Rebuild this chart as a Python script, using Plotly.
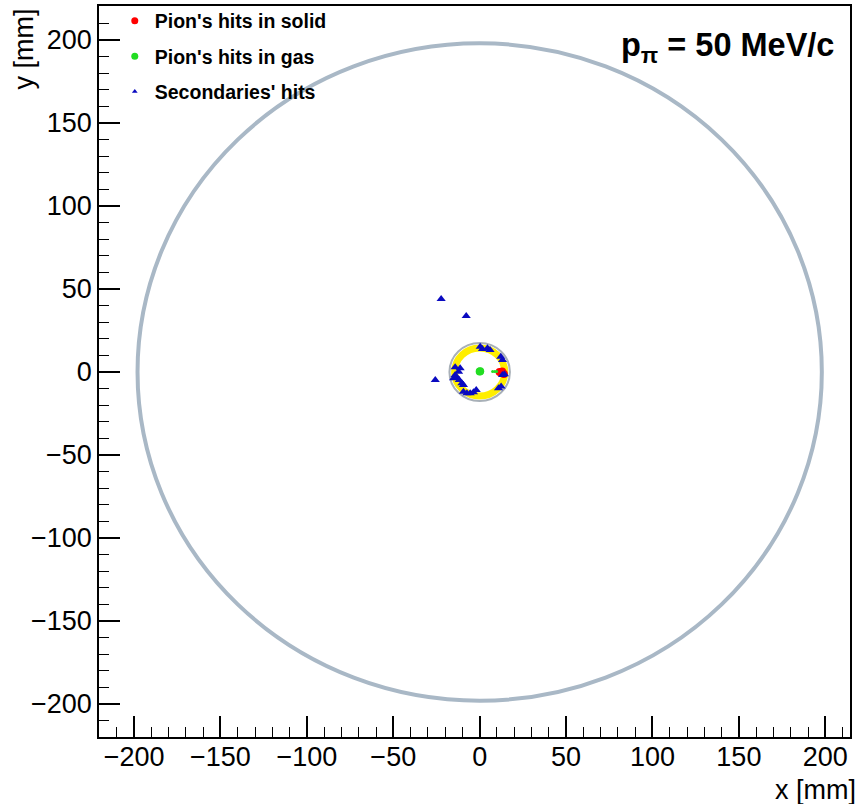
import plotly.graph_objects as go

# ---- data (mm) ----
solid_x = [11.5, 12.5, 13.5, 13.0, 14.0]
solid_y = [0.0, -0.5, -0.8, 0.3, -1.2]

gas_x = [0.0, 0.3]
gas_y = [0.3, 0.5]
gas_track_x = [7.5, 8.7, 9.8]
gas_track_y = [0.3, 0.3, 0.3]

sec_x = [-22.3, -7.8, -25.7, 0.3, 1.6, 4.5, 6.0, 12.2, 13.2, 13.2, 14.3, 12.4, 10.9,
         -11.3, -12.2, -15.1, -13.2, -11.8, -10.3, -9.4, -7.4, -5.5, -3.6, -2.0,
         -9.4, -14.2, -14.2]
sec_y = [44.0, 33.7, -4.8, 15.2, 13.9, 14.3, 13.3, 9.2, 7.2, -1.8, -1.4, -8.8, -9.8,
         2.2, 0.2, -3.8, -3.4, -4.8, -6.8, -7.8, -12.8, -12.8, -12.2, -10.8,
         -11.9, -1.8, 2.8]

detector_radius = 198.0
target_outer_radius = 17.5
target_ring_radius = 14.5

x_ticks = [-200, -150, -100, -50, 0, 50, 100, 150, 200]
y_ticks = [-200, -150, -100, -50, 0, 50, 100, 150, 200]

FONT = "Liberation Sans, Arial, Helvetica, sans-serif"

fig = go.Figure()

# data traces
fig.add_trace(go.Scatter(x=solid_x, y=solid_y, mode="markers", showlegend=False,
                         marker=dict(color="#ff0000", size=8, symbol="circle")))
fig.add_trace(go.Scatter(x=gas_track_x, y=gas_track_y, mode="markers", showlegend=False,
                         marker=dict(color="#22dd22", size=3, symbol="circle")))
fig.add_trace(go.Scatter(x=gas_x, y=gas_y, mode="markers", showlegend=False,
                         marker=dict(color="#22dd22", size=8, symbol="circle")))
fig.add_trace(go.Scatter(x=sec_x, y=sec_y, mode="markers", showlegend=False,
                         marker=dict(color="#0a0ac0", size=8, symbol="triangle-up")))

# legend entries
fig.add_trace(go.Scatter(x=[None], y=[None], mode="markers", name="Pion's hits in solid",
                         legendgroup="a", marker=dict(color="#ff0000", size=7)))
fig.add_trace(go.Scatter(x=[None], y=[None], mode="markers", name="Pion's hits in gas",
                         legendgroup="b", marker=dict(color="#22dd22", size=7)))
fig.add_trace(go.Scatter(x=[None], y=[None], mode="markers", name="Secondaries' hits",
                         legendgroup="c", marker=dict(color="#0a0ac0", size=5, symbol="triangle-up")))

# detector geometry
fig.add_shape(type="circle", xref="x", yref="y", layer="below",
              x0=-detector_radius, x1=detector_radius, y0=-detector_radius, y1=detector_radius,
              line=dict(color="#a9b8c6", width=4))
fig.add_shape(type="circle", xref="x", yref="y", layer="below",
              x0=-target_ring_radius, x1=target_ring_radius, y0=-target_ring_radius, y1=target_ring_radius,
              line=dict(color="#ffee00", width=7))
fig.add_shape(type="circle", xref="x", yref="y", layer="below",
              x0=-target_outer_radius, x1=target_outer_radius, y0=-target_outer_radius, y1=target_outer_radius,
              line=dict(color="#a8b0b8", width=2))

axis_common = dict(
    showgrid=False, zeroline=False, showline=True, linecolor="black", linewidth=1.5,
    mirror=True, ticks="inside", ticklen=21, tickwidth=1.5, tickcolor="black",
    tickfont=dict(family=FONT, size=27, color="black"),
    minor=dict(ticks="inside", ticklen=10, tickwidth=1.2, tickcolor="black", dtick=10),
    automargin=False,
)

fig.update_xaxes(range=[-220.3, 214.3], tickvals=x_ticks, ticklabelstandoff=-5, **axis_common)
fig.update_yaxes(range=[-219.9, 220.5], tickvals=y_ticks, **axis_common)

fig.update_layout(
    width=860, height=804,
    margin=dict(l=99, r=10, t=6, b=67, autoexpand=False),
    plot_bgcolor="white", paper_bgcolor="white",
    font=dict(family=FONT, color="black"),
    legend=dict(x=0.021, y=1.006, xanchor="left", yanchor="top",
                font=dict(family=FONT, size=19.5, color="black", weight="bold"),
                bgcolor="rgba(0,0,0,0)", tracegroupgap=7),
    annotations=[
        dict(text="<b>p<sub>π</sub> = 50 MeV/c</b>", xref="paper", yref="paper",
             x=0.981, y=0.943, xanchor="right", yanchor="middle", showarrow=False,
             font=dict(family=FONT, size=32.5, color="black")),
        dict(text="x [mm]", xref="paper", yref="paper", x=1.0107, y=-0.072,
             xanchor="right", yanchor="middle", showarrow=False,
             font=dict(family=FONT, size=27, color="black")),
        dict(text="y [mm]", xref="paper", yref="paper", x=-0.1, y=1.0,
             xanchor="center", yanchor="top", textangle=-90, showarrow=False,
             font=dict(family=FONT, size=27, color="black")),
    ],
)

fig.write_html("out.html", config={"displayModeBar": False},
               post_script="document.body.style.margin='0';document.body.style.overflow='hidden';")
